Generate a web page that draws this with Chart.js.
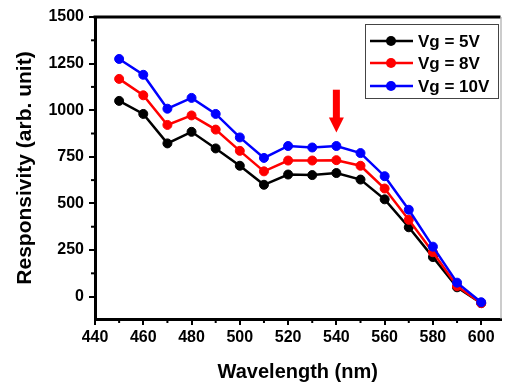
<!DOCTYPE html>
<html>
<head>
<meta charset="utf-8">
<script src="https://cdn.jsdelivr.net/npm/chart.js@4.4.1/dist/chart.umd.min.js"></script>
<style>
  html, body { margin: 0; padding: 0; background: #fff; }
  #wrap { width: 506px; height: 388px; }
</style>
</head>
<body>
<div id="wrap"><canvas id="chart" width="506" height="388"></canvas></div>
<script>
// === Data ===
const wavelengths = [450, 460, 470, 480, 490, 500, 510, 520, 530, 540, 550, 560, 570, 580, 590, 600];
const vg5 = [1050, 980, 822, 884, 795, 702, 600, 655, 652, 663, 628, 522, 372, 212, 50, -35];
const vg8 = [1168, 1080, 921, 972, 896, 782, 672, 730, 730, 732, 702, 580, 412, 238, 56, -35];
const vg10 = [1275, 1190, 1008, 1066, 980, 854, 744, 808, 800, 808, 770, 646, 466, 268, 75, -30];
const seriesLabels = ["Vg = 5V", "Vg = 8V", "Vg = 10V"];
const seriesColors = ["#000000", "#ff0000", "#0000ff"];
const xTicks = [440, 460, 480, 500, 520, 540, 560, 580, 600];
const yTicks = [0, 250, 500, 750, 1000, 1250, 1500];

const FONT = "'Liberation Sans', Arial, sans-serif";

function toPoints(ys) {
  return wavelengths.map((x, i) => ({ x: x, y: ys[i] }));
}

// === Plugin: frame, minor ticks, arrow, legend ===
const decorPlugin = {
  id: "decor",
  afterDraw(chart) {
    const { ctx, chartArea: a, scales } = chart;
    const xs = scales.x, ys = scales.y;
    ctx.save();
    // top frame
    ctx.strokeStyle = "#000";
    ctx.lineWidth = 3;
    ctx.beginPath();
    ctx.moveTo(a.left - 1.5, a.top);
    ctx.lineTo(a.right, a.top);
    ctx.stroke();
    // right frame (thin grey)
    ctx.strokeStyle = "#999";
    ctx.lineWidth = 1;
    ctx.beginPath();
    ctx.moveTo(a.right + 0.5, a.top);
    ctx.lineTo(a.right + 0.5, a.bottom);
    ctx.stroke();

    // minor ticks
    ctx.strokeStyle = "#000";
    ctx.lineWidth = 2;
    for (let i = 0; i < xTicks.length; i++) {
      const v = xTicks[i] + 10;
      if (v > xs.max) break;
      const px = xs.getPixelForValue(v);
      ctx.beginPath();
      ctx.moveTo(px, a.bottom);
      ctx.lineTo(px, a.bottom + 4);
      ctx.stroke();
    }
    for (let i = -1; i < yTicks.length - 1; i++) {
      const v = (i < 0 ? 0 : yTicks[i]) + (i < 0 ? -125 : 125);
      if (v < ys.min) continue;
      const py = ys.getPixelForValue(v);
      ctx.beginPath();
      ctx.moveTo(a.left, py);
      ctx.lineTo(a.left - 4, py);
      ctx.stroke();
    }

    // red arrow at 540 nm
    const ax = xs.getPixelForValue(540);
    const yTop = ys.getPixelForValue(1110);
    const yBot = ys.getPixelForValue(880);
    ctx.fillStyle = "#ff0000";
    ctx.fillRect(ax - 3.5, yTop, 7, (yBot - yTop) - 13);
    ctx.beginPath();
    ctx.moveTo(ax - 7.5, yBot - 15);
    ctx.lineTo(ax + 7.5, yBot - 15);
    ctx.lineTo(ax, yBot);
    ctx.closePath();
    ctx.fill();

    // legend box
    const bx = 365, by = 24, bw = 133, bh = 74;
    ctx.fillStyle = "#fff";
    ctx.fillRect(bx, by, bw, bh);
    ctx.strokeStyle = "#444";
    ctx.lineWidth = 1;
    ctx.strokeRect(bx + 0.5, by + 0.5, bw, bh);
    const rows = [41, 63, 86];
    ctx.font = "bold 17px " + FONT;
    ctx.textBaseline = "middle";
    ctx.textAlign = "left";
    for (let i = 0; i < seriesLabels.length; i++) {
      const ry = rows[i];
      ctx.strokeStyle = seriesColors[i];
      ctx.lineWidth = 2.5;
      ctx.beginPath();
      ctx.moveTo(370, ry);
      ctx.lineTo(413, ry);
      ctx.stroke();
      ctx.fillStyle = seriesColors[i];
      ctx.beginPath();
      ctx.arc(391, ry, 5, 0, Math.PI * 2);
      ctx.fill();
      ctx.fillStyle = "#000";
      ctx.fillText(seriesLabels[i], 418, ry + 1);
    }
    ctx.restore();
  },
};

// === Chart ===
const ctx = document.getElementById("chart").getContext("2d");
new Chart(ctx, {
  type: "line",
  data: {
    datasets: [
      { label: seriesLabels[0], data: toPoints(vg5), order: 2 },
      { label: seriesLabels[1], data: toPoints(vg8), order: 1 },
      { label: seriesLabels[2], data: toPoints(vg10), order: 0 },
    ].map((d, i) => Object.assign(d, {
      borderColor: seriesColors[i],
      backgroundColor: seriesColors[i],
      pointBackgroundColor: seriesColors[i],
      pointBorderColor: seriesColors[i],
      borderWidth: 2.5,
      pointRadius: 4.5,
      pointBorderWidth: 1,
      tension: 0,
      fill: false,
    })),
  },
  options: {
    responsive: false,
    animation: false,
    layout: { padding: { top: 17, right: 2, left: 0, bottom: 0 } },
    plugins: {
      legend: { display: false },
      tooltip: { enabled: false },
    },
    scales: {
      x: {
        type: "linear",
        min: 440,
        max: 608,
        afterBuildTicks: (s) => { s.ticks = xTicks.map((v) => ({ value: v })); },
        afterFit: (s) => { s.height = 69; },
        border: { display: true, color: "#000", width: 3 },
        grid: { drawOnChartArea: false, color: "#000", lineWidth: 2, tickLength: 6 },
        ticks: {
          color: "#000",
          padding: 3,
          maxRotation: 0,
          callback: (v) => String(v),
          font: { family: FONT, size: 16, weight: "bold" },
        },
        title: {
          display: true,
          text: "Wavelength (nm)",
          color: "#000",
          font: { family: FONT, size: 20, weight: "bold" },
          padding: { top: 0, bottom: 4 },
        },
      },
      y: {
        min: -120,
        max: 1500,
        afterBuildTicks: (s) => { s.ticks = yTicks.map((v) => ({ value: v })); },
        afterFit: (s) => { s.width = 95; },
        border: { display: true, color: "#000", width: 3 },
        grid: { drawOnChartArea: false, color: "#000", lineWidth: 2, tickLength: 6 },
        ticks: {
          color: "#000",
          padding: 5,
          callback: (v) => String(v),
          font: { family: FONT, size: 16, weight: "bold" },
        },
        title: {
          display: true,
          text: "Responsivity (arb. unit)",
          color: "#000",
          font: { family: FONT, size: 21, weight: "bold" },
          padding: { top: 13, bottom: 0 },
        },
      },
    },
  },
  plugins: [decorPlugin],
});
</script>
</body>
</html>
